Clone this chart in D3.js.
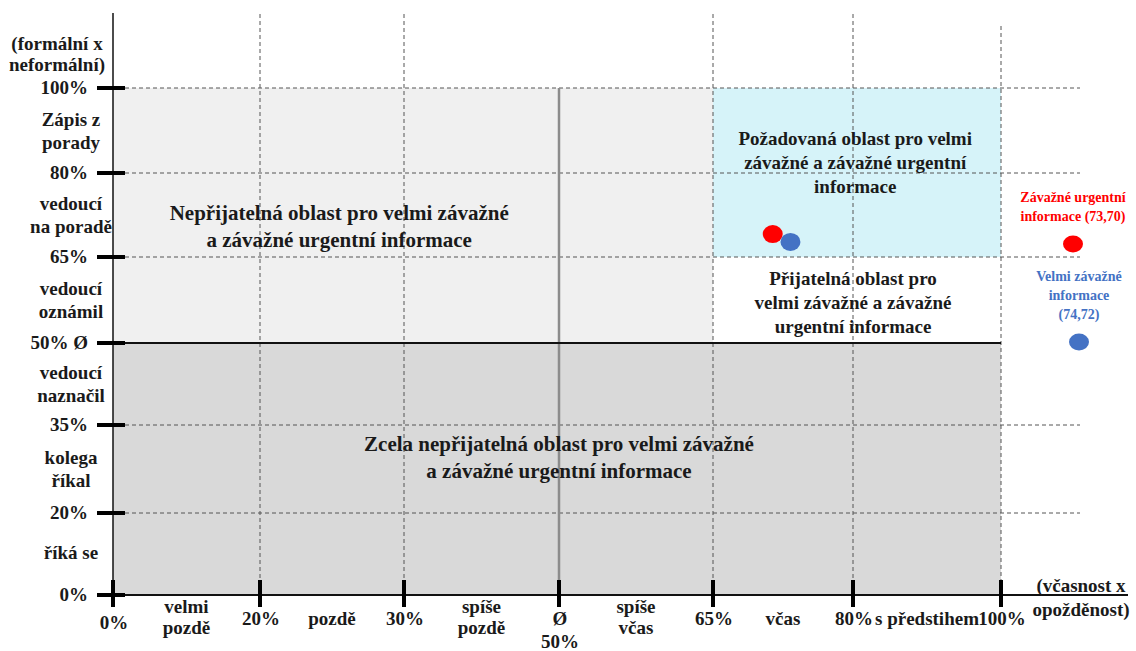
<!DOCTYPE html>
<html>
<head>
<meta charset="utf-8">
<script src="https://cdn.jsdelivr.net/npm/d3@7"></script>
<style>
    body { margin: 0; background: #fff; }
    svg text { font-family: "Liberation Serif", "DejaVu Serif", serif; font-weight: bold; fill: #1a1a1a; }
</style>
</head>
<body>
<script>
// osa x - vcasnost
var xTicks = [0, 20, 30, 50, 65, 80, 100];
var xTickLabels = [["0%"], ["20%"], ["30%"], ["Ø", "50%"], ["65%"], ["80%"], ["100%"]];
var xBandLabels = [["velmi", "pozdě"], ["pozdě"], ["spíše", "pozdě"], ["spíše", "včas"], ["včas"], ["s předstihem"]];
var xTitle = ["(včasnost x", "opožděnost)"];

// osa y - formalnost
var yTicks = [0, 20, 35, 50, 65, 80, 100];
var yTickLabels = ["0%", "20%", "35%", "50% Ø", "65%", "80%", "100%"];
var yBandLabels = [["říká se"], ["kolega", "říkal"], ["vedoucí", "naznačil"], ["vedoucí", "oznámil"], ["vedoucí", "na poradě"], ["Zápis z", "porady"]];
var yTitle = ["(formální x", "neformální)"];

// oblasti
var zoneNames = ["zcela", "neprijatelna", "pozadovana", "prijatelna"];
var zoneX = [[0, 100], [0, 65], [65, 100], [65, 100]];
var zoneY = [[0, 50], [50, 100], [65, 100], [50, 65]];
var zoneText = [
    ["Zcela nepřijatelná oblast pro velmi závažné", "a závažné urgentní informace"],
    ["Nepřijatelná oblast pro velmi závažné", "a závažné urgentní informace"],
    ["Požadovaná oblast pro  velmi", "závažné a závažné urgentní", "informace"],
    ["Přijatelná oblast pro", "velmi závažné a závažné", "urgentní informace"]
];
var zoneTextAt = [[50, 29.5], [25.5, 70.5], [80.3, 82.6], [80, 57.2]];

// body
var pointNames = [["Závažné urgentní", "informace (73,70)"], ["Velmi závažné", "informace", "(74,72)"]];
var pointX = [71.4, 73.3];
var pointY = [69.1, 67.7];

var width = 1136, height = 651;
var zoneFill = { zcela: "#d9d9d9", neprijatelna: "#f0f0f0", pozadovana: "#d6f3f9", prijatelna: "#ffffff" };
var pointColor = ["#ff0000", "#4472c4"];

var svg = d3.select("body").append("svg")
    .attr("width", width)
    .attr("height", height)
    .attr("font-family", "'Liberation Serif', 'DejaVu Serif', serif");

// nelinearni meritka podle obrazku
var x = d3.scaleLinear()
    .domain(xTicks)
    .range([113, 260, 404, 559, 713, 853, 1001]);

var y = d3.scaleLinear()
    .domain(yTicks)
    .range([595, 513, 425, 343, 257, 173, 88]);

svg.append("g")
    .selectAll("rect")
    .data(zoneNames)
    .enter()
    .append("rect")
    .attr("x", function(d, i){ return x(zoneX[i][0]); })
    .attr("y", function(d, i){ return y(zoneY[i][1]); })
    .attr("width", function(d, i){ return x(zoneX[i][1]) - x(zoneX[i][0]); })
    .attr("height", function(d, i){ return y(zoneY[i][0]) - y(zoneY[i][1]); })
    .attr("fill", function(d){ return zoneFill[d]; });

// carkovane mrizky
var dash = "4,3";
svg.append("g")
    .selectAll("line")
    .data(yTicks.filter(function(d){ return d != 0 && d != 50; }))
    .enter()
    .append("line")
    .attr("x1", x(0) + 12)
    .attr("x2", 1080)
    .attr("y1", function(d){ return y(d); })
    .attr("y2", function(d){ return y(d); })
    .attr("stroke", "#555")
    .attr("stroke-width", 1)
    .attr("stroke-dasharray", dash);

svg.append("g")
    .selectAll("line")
    .data(xTicks.filter(function(d){ return d != 0 && d != 50; }))
    .enter()
    .append("line")
    .attr("x1", function(d){ return x(d); })
    .attr("x2", function(d){ return x(d); })
    .attr("y1", function(d){ return d == 100 ? 26 : 14; })
    .attr("y2", y(0))
    .attr("stroke", "#555")
    .attr("stroke-width", 1)
    .attr("stroke-dasharray", dash);

// stredy 50 %
svg.append("line")
    .attr("x1", x(50)).attr("x2", x(50))
    .attr("y1", y(100)).attr("y2", y(0))
    .attr("stroke", "#8c8c8c")
    .attr("stroke-width", 2.5);

svg.append("line")
    .attr("x1", x(0)).attr("x2", x(100))
    .attr("y1", y(50)).attr("y2", y(50))
    .attr("stroke", "#111")
    .attr("stroke-width", 2);

// osy
svg.append("line")
    .attr("x1", x(0)).attr("x2", x(0))
    .attr("y1", 13).attr("y2", y(0))
    .attr("stroke", "#111")
    .attr("stroke-width", 1.5);

svg.append("line")
    .attr("x1", x(0)).attr("x2", 1128)
    .attr("y1", y(0)).attr("y2", y(0))
    .attr("stroke", "#111")
    .attr("stroke-width", 2);

svg.append("g")
    .selectAll("line")
    .data(yTicks)
    .enter()
    .append("line")
    .attr("x1", x(0) - 16)
    .attr("x2", x(0) + 12)
    .attr("y1", function(d){ return y(d); })
    .attr("y2", function(d){ return y(d); })
    .attr("stroke", "#000")
    .attr("stroke-width", 4);

svg.append("g")
    .selectAll("line")
    .data(xTicks)
    .enter()
    .append("line")
    .attr("x1", function(d){ return x(d); })
    .attr("x2", function(d){ return x(d); })
    .attr("y1", y(0) - 15)
    .attr("y2", y(0) + 12)
    .attr("stroke", "#000")
    .attr("stroke-width", 4);

// popisky - viceradkovy text
function multiline(sel, lines, lh){
    lines.forEach(function(t, i){
        sel.append("tspan")
            .attr("x", sel.attr("x"))
            .attr("dy", i == 0 ? 0 : lh)
            .text(t);
    });
}

svg.append("g")
    .selectAll("text")
    .data(xTickLabels)
    .enter()
    .append("text")
    .attr("x", function(d, i){ return x(xTicks[i]) + 1; })
    .attr("y", function(d, i){ return i == 0 ? 629 : 625; })
    .attr("text-anchor", "middle")
    .attr("font-size", 19)
    .each(function(d){ multiline(d3.select(this), d, 23); });

svg.append("g")
    .selectAll("text")
    .data(xBandLabels)
    .enter()
    .append("text")
    .attr("x", function(d, i){ return (x(xTicks[i]) + x(xTicks[i + 1])) / 2; })
    .attr("y", function(d){ return d.length > 1 ? 613 : 625; })
    .attr("text-anchor", "middle")
    .attr("font-size", 19)
    .each(function(d){ multiline(d3.select(this), d, 21); });

svg.append("text")
    .attr("x", 1081)
    .attr("y", 592)
    .attr("text-anchor", "middle")
    .attr("font-size", 19)
    .each(function(){ multiline(d3.select(this), xTitle, 24); });

svg.append("g")
    .selectAll("text")
    .data(yTickLabels)
    .enter()
    .append("text")
    .attr("x", x(0) - 25)
    .attr("y", function(d, i){ return y(yTicks[i]) + 6; })
    .attr("text-anchor", "end")
    .attr("font-size", 19)
    .text(function(d){ return d; });

svg.append("g")
    .selectAll("text")
    .data(yBandLabels)
    .enter()
    .append("text")
    .attr("x", 71)
    .attr("y", function(d, i){
        var mid = (y(yTicks[i]) + y(yTicks[i + 1])) / 2;
        return d.length > 1 ? mid - 5 : mid + 5;
    })
    .attr("text-anchor", "middle")
    .attr("font-size", 19)
    .each(function(d){ multiline(d3.select(this), d, 23); });

svg.append("text")
    .attr("x", 57)
    .attr("y", 50)
    .attr("text-anchor", "middle")
    .attr("font-size", 19)
    .each(function(){ multiline(d3.select(this), yTitle, 21); });

// texty oblasti
svg.append("g")
    .selectAll("text")
    .data(zoneText)
    .enter()
    .append("text")
    .attr("x", function(d, i){ return x(zoneTextAt[i][0]); })
    .attr("y", function(d, i){
        var lh = i < 2 ? 27 : 24;
        return y(zoneTextAt[i][1]) + 7 - (d.length - 1) * lh / 2;
    })
    .attr("text-anchor", "middle")
    .attr("font-size", function(d, i){ return i < 2 ? 21 : 19; })
    .each(function(d, i){ multiline(d3.select(this), d, i < 2 ? 27 : 24); });

// body
svg.append("g")
    .selectAll("ellipse")
    .data(pointX)
    .enter()
    .append("ellipse")
    .attr("cx", function(d){ return x(d); })
    .attr("cy", function(d, i){ return y(pointY[i]); })
    .attr("rx", 10)
    .attr("ry", 9)
    .attr("fill", function(d, i){ return pointColor[i]; });

// legenda vpravo
var legendX = [1073, 1079];
var legendTop = [202, 281];
var legend = svg.append("g")
    .selectAll("g")
    .data(pointNames)
    .enter()
    .append("g");

legend.append("text")
    .attr("x", function(d, i){ return legendX[i]; })
    .attr("y", function(d, i){ return legendTop[i]; })
    .attr("text-anchor", "middle")
    .attr("font-size", 14)
    .style("fill", function(d, i){ return pointColor[i]; })
    .each(function(d){ multiline(d3.select(this), d, 19); });

legend.append("ellipse")
    .attr("cx", function(d, i){ return legendX[i]; })
    .attr("cy", function(d, i){ return legendTop[i] + (d.length - 1) * 19 + 23; })
    .attr("rx", 10)
    .attr("ry", 8.5)
    .attr("fill", function(d, i){ return pointColor[i]; });
</script>
</body>
</html>
